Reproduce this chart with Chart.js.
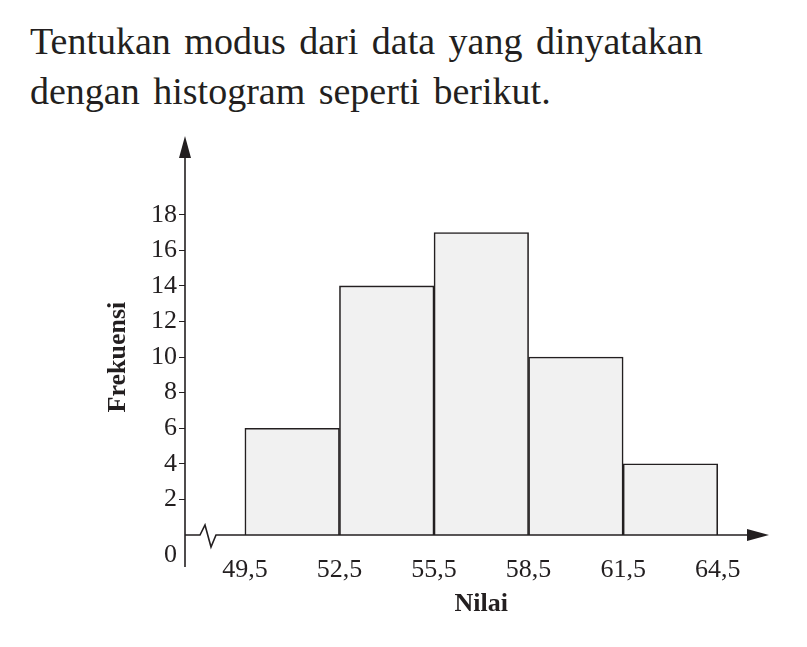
<!DOCTYPE html>
<html><head><meta charset="utf-8">
<script src="https://cdn.jsdelivr.net/npm/chart.js@4"></script>
<style>
body{margin:0;background:#fff;}
#t{position:absolute;left:30px;top:16px;width:760px;font-family:"Liberation Serif",serif;font-size:38px;line-height:50px;color:#231f20;word-spacing:4px;}
#w{position:absolute;left:0;top:0;width:807px;height:647px;}
</style></head><body>
<div id="t">Tentukan modus dari data yang dinyatakan<br>dengan histogram seperti berikut.</div>
<div id="w"><canvas id="c"></canvas></div>
<script>
let midPoints = [51, 54, 57, 60, 63];
let frekuensi = [6, 14, 17, 10, 4];
let batasKelas = [49.5, 52.5, 55.5, 58.5, 61.5, 64.5];
let yTicks = [2, 4, 6, 8, 10, 12, 14, 16, 18];
const ink = '#231f20';
const serif = '"Liberation Serif", serif';

const extras = {
    id: 'extras',
    afterDraw(chart){
        let ctx = chart.ctx, x = chart.scales.x, y = chart.scales.y;
        let ox = chart.chartArea.left, oy = y.getPixelForValue(0), top = chart.chartArea.top, right = chart.chartArea.right;
        ctx.save();
        ctx.strokeStyle = ink; ctx.fillStyle = ink; ctx.lineWidth = 1.6;
        // y axis + arrow
        ctx.beginPath(); ctx.moveTo(ox, oy + 32); ctx.lineTo(ox, top + 4); ctx.stroke();
        ctx.beginPath(); ctx.moveTo(ox, top - 4); ctx.lineTo(ox - 6, top + 18); ctx.lineTo(ox + 6, top + 18); ctx.closePath(); ctx.fill();
        // x axis with break + arrow
        ctx.beginPath(); ctx.moveTo(ox, oy); ctx.lineTo(ox + 15, oy); ctx.lineTo(ox + 20, oy - 10); ctx.lineTo(ox + 26, oy + 12); ctx.lineTo(ox + 31, oy); ctx.lineTo(right - 4, oy); ctx.stroke();
        ctx.beginPath(); ctx.moveTo(right + 4, oy); ctx.lineTo(right - 18, oy - 6); ctx.lineTo(right - 18, oy + 6); ctx.closePath(); ctx.fill();
        // labels
        ctx.font = '26px ' + serif; ctx.textAlign = 'right'; ctx.textBaseline = 'middle';
        ctx.fillText('0', ox - 8, oy + 20);
        ctx.font = 'bold 26px ' + serif; ctx.textAlign = 'center';
        ctx.fillText('Nilai', x.getPixelForValue(57), 604);
        ctx.translate(118, y.getPixelForValue(10)); ctx.rotate(-Math.PI / 2);
        ctx.fillText('Frekuensi', 0, 0);
        ctx.restore();
    }
};

new Chart(document.getElementById('c'), {
    type: 'bar',
    data: {
        datasets: [{
            data: midPoints.map((m, i) => ({x: m, y: frekuensi[i]})),
            backgroundColor: '#f1f1f1',
            borderColor: ink,
            borderWidth: 1.6,
            barPercentage: 1,
            categoryPercentage: 1
        }]
    },
    options: {
        responsive: true, maintainAspectRatio: false, animation: false,
        layout: {padding: {top: 140, right: 42, left: 0, bottom: 0}},
        plugins: {legend: {display: false}, tooltip: {enabled: false}},
        scales: {
            x: {
                type: 'linear', min: 47.6, max: 66, offset: false,
                afterFit: s => { s.height = 112; },
                afterBuildTicks: s => { s.ticks = batasKelas.map(v => ({value: v})); },
                grid: {display: false, offset: false}, border: {display: false},
                ticks: {color: ink, font: {family: serif, size: 26}, padding: 12, maxRotation: 0,
                    callback: v => String(v).replace('.', ',')}
            },
            y: {
                min: 0, max: 22.2,
                afterFit: s => { s.width = 185; },
                afterBuildTicks: s => { s.ticks = yTicks.map(v => ({value: v})); },
                grid: {drawOnChartArea: false, drawTicks: true, tickLength: 6, color: ink},
                border: {display: false},
                ticks: {color: ink, font: {family: serif, size: 26}, padding: 2}
            }
        }
    },
    plugins: [extras]
});
</script>
</body></html>
